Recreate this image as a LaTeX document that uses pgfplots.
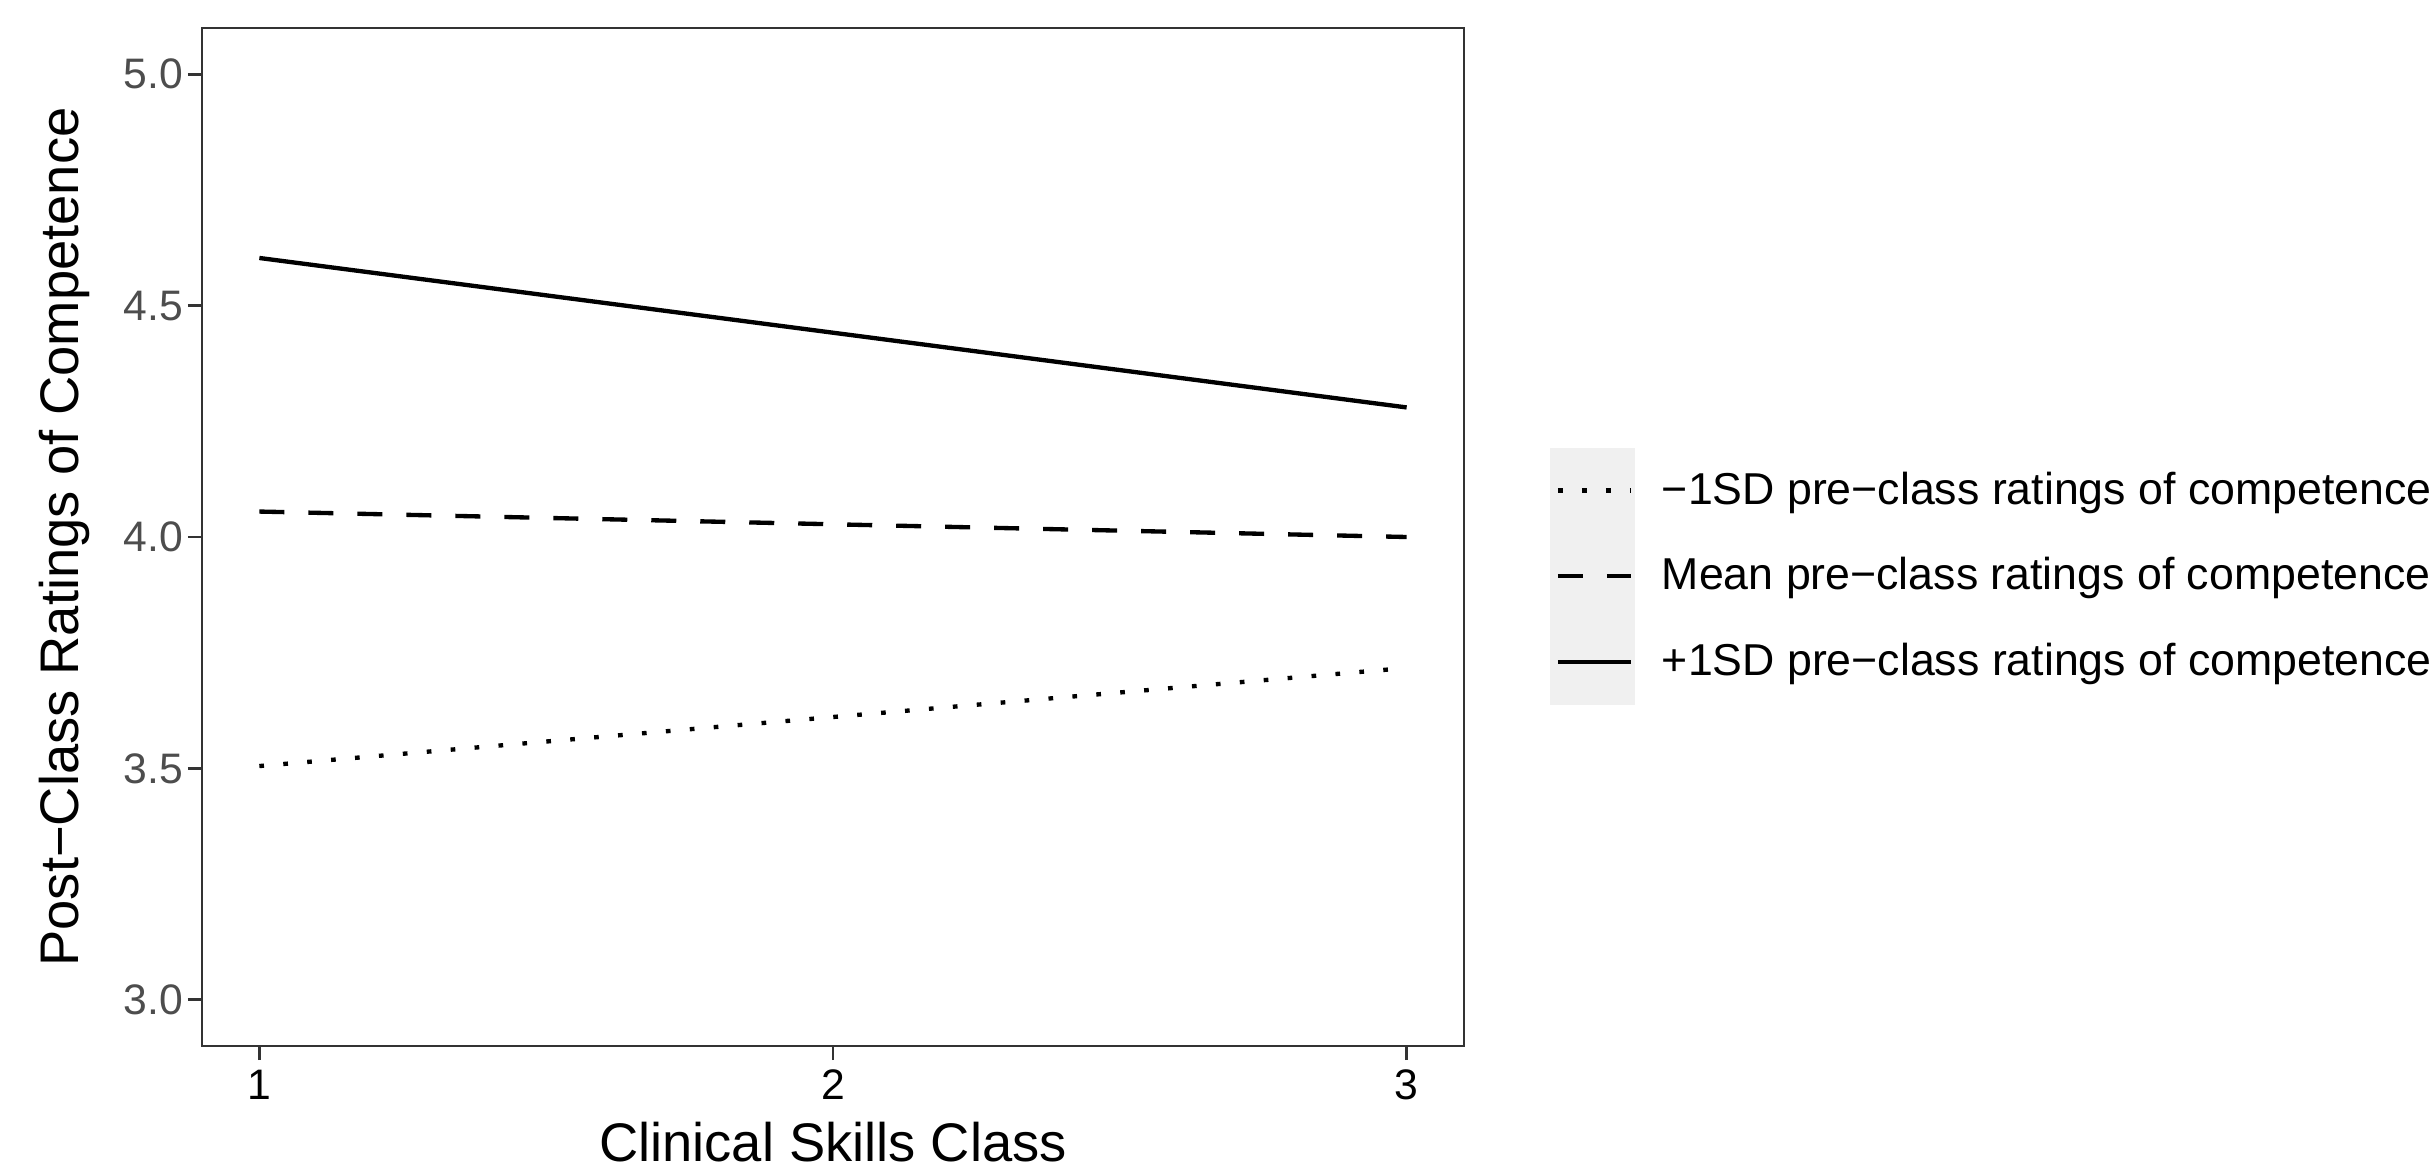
\documentclass[border=0pt]{standalone}
\usepackage{pgfplots}
\pgfplotsset{compat=1.18}
\usepackage{fontspec}
\setmainfont{Liberation Sans}
\definecolor{axgray}{HTML}{333333}
\definecolor{tickgray}{HTML}{4D4D4D}
\definecolor{keygray}{HTML}{F0F0F0}
\begin{document}
\begin{tikzpicture}
\useasboundingbox (-60.6pt,-36.9pt) rectangle (669.9pt,313.8pt);
\begin{axis}[
  at={(0pt,0pt)}, anchor=south west,
  scale only axis, width=378.6pt, height=305.4pt,
  xmin=0.9, xmax=3.1, ymin=2.9, ymax=5.1,
  xtick={1,2,3}, xticklabels={1,2,3},
  ytick={3,3.5,4,4.5,5}, yticklabels={3.0,3.5,4.0,4.5,5.0},
  xtick pos=bottom, ytick pos=left, tick align=outside,
  major tick length=4.2pt,
  axis line style={axgray, line width=0.8pt},
  tick style={axgray, line width=0.8pt},
  xticklabel style={font=\fontsize{12.8}{15}\selectfont, text=black, yshift=0.6pt},
  yticklabel style={font=\fontsize{12.8}{15}\selectfont, text=tickgray, xshift=2.1pt},
  xlabel={Clinical Skills Class},
  ylabel={Post−Class Ratings of Competence},
  label style={font=\fontsize{16.3}{19}\selectfont},
  xlabel style={at={(axis description cs:0.5,-0.1136)}, anchor=base},
  ylabel style={at={(axis description cs:-0.1086,0.5)}, anchor=center, rotate=0},
  legend style={at={(axis description cs:1.0681,0.5878)}, anchor=north west,
    draw=none, fill=none, inner sep=0pt, outer sep=0pt, row sep=0pt,
    column sep=8.1pt, font=\fontsize{13.4}{16}\selectfont, nodes={inner sep=0pt}},
  legend cell align=left,
  legend image code/.code={
    \fill[keygray, draw=none, solid] (-2.4pt,-12.85pt) rectangle (23.1pt,12.85pt);
    \draw[#1] (0pt,0pt) -- (21.9pt,0pt);},
]
\addplot[black, no markers, line width=1.3pt, dash pattern=on 1.4pt off 5.8pt]
  coordinates {(1,3.505) (3,3.717)};
\addlegendentry{−1SD pre−class ratings of competence}
\addplot[black, no markers, line width=1.3pt, dash pattern=on 7.5pt off 7.2pt]
  coordinates {(1,4.055) (3,4.000)};
\addlegendentry{Mean pre−class ratings of competence}
\addplot[black, no markers, line width=1.3pt]
  coordinates {(1,4.603) (3,4.280)};
\addlegendentry{+1SD pre−class ratings of competence}
\end{axis}
\end{tikzpicture}
\end{document}
